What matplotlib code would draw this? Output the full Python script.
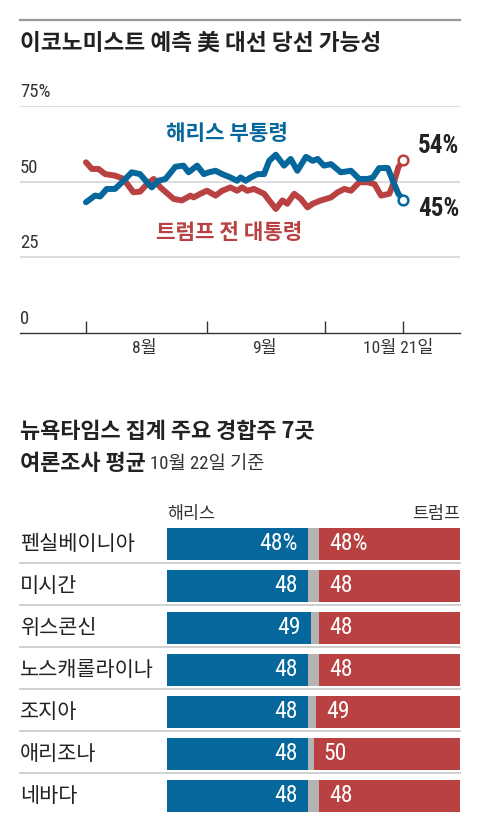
import matplotlib
matplotlib.use("Agg")
import matplotlib.pyplot as plt
from matplotlib import transforms, font_manager
from matplotlib.lines import Line2D

plt.rcParams['font.family'] = ['Noto Sans CJK KR', 'DejaVu Sans']

# pick a narrow face for the numbers if one is installed
_fonts = font_manager.fontManager.ttflist
_names = {f.name for f in _fonts}
NUM_FONT = ['Noto Sans CJK KR', 'DejaVu Sans']
NUM_STRETCH = 'normal'
for cand in ['Liberation Sans Narrow', 'Roboto Condensed', 'Open Sans Condensed',
             'Noto Sans Condensed', 'Arial Narrow']:
    if cand in _names:
        NUM_FONT = [cand, 'Noto Sans CJK KR', 'DejaVu Sans']
        break
else:
    for f in _fonts:
        if f.stretch == 'condensed' or 'Condensed' in f.fname or 'Narrow' in f.fname:
            NUM_FONT = [f.name, 'Noto Sans CJK KR', 'DejaVu Sans']
            NUM_STRETCH = 'condensed'
            break

# --- line chart data (days since Aug 1, win probability %) ---
harris_day = [0, 2.3, 3.6, 5.3, 7.4, 9.2, 11.7, 13.8, 15.6, 16.8, 18.5, 20.3,
              22.0, 22.8, 24.9, 26.2, 28.4, 30.1, 31.4, 33.1, 34.8, 36.9, 38.6,
              39.5, 40.8, 42.1, 43.8, 45.5, 46.8, 48.5, 50.6, 52.3, 54.0, 56.2,
              57.9, 59.2, 60.8, 62.6, 65.1, 67.7, 69.8, 72.0, 73.3, 74.9, 77.1,
              78.4, 79.8, 81]
harris_val = [43.2, 45.4, 45.1, 47.6, 47.6, 49.8, 53.1, 52.5, 49.8, 48.1, 50.3,
              50.9, 53.6, 54.9, 55.3, 53.1, 55.3, 52.5, 53.1, 53.6, 52.5, 51.4,
              50.3, 51.4, 50.3, 51.4, 52.5, 52.5, 56.9, 58.9, 55.3, 57.5, 53.6,
              58.2, 56.9, 57.5, 55.3, 55.8, 53.1, 53.6, 50.9, 50.9, 51.4, 54.5,
              54.5, 50.3, 46.0, 44.1]
trump_day = [0, 1.5, 3.2, 4.9, 7.4, 9.6, 12.1, 13.8, 15.6, 17.3, 19.0, 22.4,
             24.5, 26.7, 27.5, 29.2, 30.9, 33.1, 34.8, 36.9, 38.6, 39.9, 41.2,
             42.9, 45.5, 46.8, 48.5, 50.2, 51.4, 53.2, 54.9, 56.6, 57.9, 60.0,
             61.3, 62.6, 64.3, 66.0, 67.7, 69.8, 72.0, 73.7, 75.4, 77.5, 78.8,
             79.8, 81]
trump_val = [56.4, 54.2, 54.2, 52.5, 52.0, 50.9, 46.5, 46.7, 49.2, 50.9, 48.1,
             44.3, 43.8, 45.4, 44.8, 46.0, 47.0, 45.4, 47.0, 48.1, 47.0, 48.1,
             47.0, 47.6, 46.0, 43.8, 41.0, 43.8, 42.7, 46.0, 44.3, 41.5, 42.7,
             43.8, 44.3, 44.8, 46.5, 47.6, 47.0, 49.8, 49.8, 49.2, 45.4, 46.0,
             50.3, 54.7, 57.2]
tick_days = [0, 31, 61, 81]
month_labels = ['8월', '9월', '10월 21일']
month_label_days = [15, 45.5, 79.7]
y_ticks = [0, 25, 50, 75]
y_labels = ['0', '25', '50', '75%']

# --- bar chart data ---
states = ['펜실베이니아', '미시간', '위스콘신', '노스캐롤라이나', '조지아', '애리조나', '네바다']
harris_poll = [48, 48, 49, 48, 48, 48, 48]
trump_poll = [48, 48, 48, 48, 49, 50, 48]

BLUE = '#05679c'
RED = '#ba4141'
GRAY = '#b4b4b4'
DARK = '#222222'

W, H = 480, 834
fig = plt.figure(figsize=(W / 100, H / 100), dpi=100)


def rect(x0, y0, x1, y1):
    return [x0 / W, 1 - y1 / H, (x1 - x0) / W, (y1 - y0) / H]


num = dict(family=NUM_FONT, fontstretch=NUM_STRETCH)

# top rule + title
fig.add_artist(Line2D([20 / W, 460 / W], [1 - 20 / H] * 2, color='#999999', lw=1.6))
fig.text(20 / W, 1 - 43 / H, '이코노미스트 예측 美 대선 당선 가능성', fontsize=16.3,
         fontweight='heavy', color=DARK, va='center')

# ---- line chart ----
ax = fig.add_axes(rect(20, 106, 460, 333))
ax.set_xlim((20 - 86) / 3.914, (460 - 86) / 3.914)
ax.set_ylim(0, 75)
for s in ['top', 'left', 'right']:
    ax.spines[s].set_visible(False)
ax.spines['bottom'].set_color('#333333')
ax.spines['bottom'].set_linewidth(1)
ax.set_yticks([])
ax.set_xticks(tick_days)
ax.tick_params(axis='x', direction='in', length=9, width=1, color='#333333',
               labelbottom=False)
for v in y_ticks[1:]:
    ax.axhline(v, color='#d6d6d6', lw=1.2, zorder=0)

ytrans = transforms.blended_transform_factory(ax.transAxes, ax.transData)
for v, lab in zip(y_ticks, y_labels):
    ax.annotate(lab, xy=(0, v), xycoords=ytrans, xytext=(0, 10),
                textcoords='offset points', va='center', ha='left',
                fontsize=13.5, color='#333333', **num)
for d, lab in zip(month_label_days, month_labels):
    ax.annotate(lab, xy=(d, 0), xytext=(0, -11), textcoords='offset points',
                ha='center', va='center', fontsize=12.5, color='#333333',
                annotation_clip=False, **num)

ax.plot(trump_day, trump_val, color=RED, lw=4.3, solid_joinstyle='round',
        solid_capstyle='round', zorder=3)
ax.plot(harris_day, harris_val, color=BLUE, lw=4.3, solid_joinstyle='round',
        solid_capstyle='round', zorder=4)
ax.plot(trump_day[-1], trump_val[-1], 'o', ms=7, mfc='white', mec=RED,
        mew=1.8, zorder=5, clip_on=False)
ax.plot(harris_day[-1], harris_val[-1], 'o', ms=7, mfc='white', mec=BLUE,
        mew=1.8, zorder=5, clip_on=False)

ax.text(36, 65.8, '해리스 부통령', color=BLUE, fontsize=15.3, fontweight='bold',
        ha='center', va='center')
ax.text(36.5, 33.2, '트럼프 전 대통령', color=RED, fontsize=15.3, fontweight='bold',
        ha='center', va='center')
ax.text(84.8, 61.8, '54%', color=DARK, fontsize=18, ha='left', va='center',
        fontweight='bold', **num)
ax.text(84.8, 41.1, '45%', color=DARK, fontsize=18, ha='left', va='center',
        fontweight='bold', **num)

# ---- bar chart ----
fig.text(20 / W, 1 - 432 / H, '뉴욕타임스 집계 주요 경합주 7곳', fontsize=15.8,
         fontweight='heavy', color=DARK, va='center')
fig.text(20 / W, 1 - 463 / H, '여론조사 평균', fontsize=15.8,
         fontweight='heavy', color=DARK, va='center')
fig.text(150 / W, 1 - 464 / H, '10월 22일 기준', fontsize=13.5, color='#333333',
         va='center', **num)

ax2 = fig.add_axes(rect(167, 523, 460, 817))
ax2.set_xlim(0, 100)
ax2.set_ylim(6.5, -0.5)
ax2.axis('off')

rows = list(range(len(states)))
gray_w = [100 - h - r for h, r in zip(harris_poll, trump_poll)]
ax2.barh(rows, harris_poll, height=0.76, color=BLUE)
ax2.barh(rows, gray_w, left=harris_poll, height=0.76, color=GRAY)
ax2.barh(rows, trump_poll, left=[100 - r for r in trump_poll], height=0.76, color=RED)

ax2.text(0, -0.72, '해리스', fontsize=12.5, color='#333333', ha='left', va='center')
ax2.text(100, -0.72, '트럼프', fontsize=12.5, color='#333333', ha='right', va='center')

rtrans = transforms.blended_transform_factory(fig.transFigure, ax2.transData)
for i, (name, h, r) in enumerate(zip(states, harris_poll, trump_poll)):
    sfx = '%' if i == 0 else ''
    ax2.text(20 / W, i, name, transform=rtrans, fontsize=15, color=DARK,
             ha='left', va='center')
    ax2.annotate(f'{h}{sfx}', xy=(h, i), xytext=(-7, 0), textcoords='offset points',
                 ha='right', va='center', color='white', fontsize=17,
                 fontweight='normal', **num)
    ax2.annotate(f'{r}{sfx}', xy=(100 - r, i), xytext=(7, 0),
                 textcoords='offset points', ha='left', va='center',
                 color='white', fontsize=17, fontweight='normal', **num)
    if i < len(states) - 1:
        ax2.plot([20 / W, 460 / W], [i + 0.45] * 2, transform=rtrans,
                 color='#cccccc', lw=1.3, clip_on=False)

fig.savefig('out.png', dpi=100)
